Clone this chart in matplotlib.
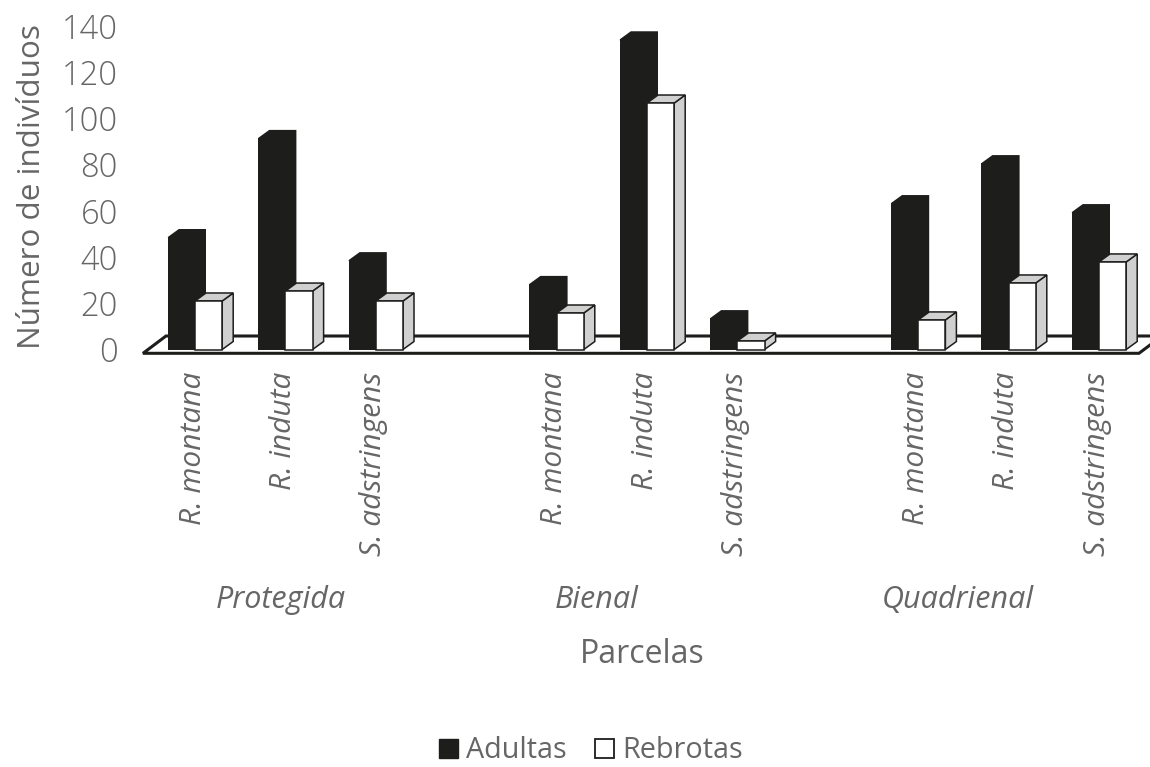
import matplotlib
matplotlib.use("Agg")
import matplotlib.pyplot as plt
from matplotlib.patches import Patch

plt.rcParams['font.family'] = ['Open Sans', 'DejaVu Sans']

especies = ['R. montana', 'R. induta', 'S. adstringens'] * 3
parcelas = ['Protegida', 'Bienal', 'Quadrienal']
adultas = [48.7, 91.6, 38.7, 28.4, 134.3, 13.6, 63.4, 80.7, 59.5]
rebrotas = [21, 25.3, 21, 15.8, 106.7, 3.7, 12.8, 28.8, 37.9]
y_ticks = [0, 20, 40, 60, 80, 100, 120, 140]

# cada parcela deixa uma vaga livre entre os grupos
pos = [0, 1, 2, 4, 5, 6, 8, 9, 10]
pos_parcelas = [0.95, 4.44, 8.44]

PRETO = '#1d1d1b'
CINZA = '#d0d0d0'
TEXTO = '#666666'

W, H = 1150, 767
px_x = 90.4
px_y = 2.31
fig = plt.figure(figsize=(W / 100, H / 100), dpi=100)
ax_esq, ax_dir, ax_base, ax_topo = 143, 1150, 349.5, 349.5 - 140 * px_y
ax = fig.add_axes([ax_esq / W, 1 - ax_base / H, (ax_dir - ax_esq) / W, (ax_base - ax_topo) / H])
ax.set_xlim((ax_esq - 195) / px_x, (ax_dir - 195) / px_x)
ax.set_ylim(0, 140)

larg = 27.2 / px_x
dx = 11 / px_x
dy = 8 / px_y

# piso
piso_x = [-52 / px_x, -29 / px_x, 967 / px_x, 944 / px_x]
piso_y = [-3.8 / px_y, 13.5 / px_y, 13.5 / px_y, -3.8 / px_y]
ax.fill(piso_x, piso_y, facecolor='white', edgecolor=PRETO, linewidth=2.2,
        joinstyle='miter', clip_on=False, zorder=1)

for x, a, r in zip(pos, adultas, rebrotas):
    ax.bar(x - larg, a, larg, align='edge', color=PRETO, zorder=3, clip_on=False)
    ax.fill([x - larg, x - larg + dx, x + dx, x + dx, x],
            [a, a + dy, a + dy, dy, 0], color=PRETO, linewidth=0, zorder=3, clip_on=False)

    ax.fill([x + larg, x + larg + dx, x + larg + dx, x + larg],
            [0, dy, r + dy, r], facecolor=CINZA, edgecolor=PRETO, linewidth=1.1, zorder=4, clip_on=False)
    ax.fill([x, x + dx, x + larg + dx, x + larg],
            [r, r + dy, r + dy, r], facecolor=CINZA, edgecolor=PRETO, linewidth=1.1, zorder=4, clip_on=False)
    ax.bar(x, r, larg, align='edge', color='white', edgecolor=PRETO, linewidth=1.1, zorder=5, clip_on=False)

for lado in ax.spines.values():
    lado.set_visible(False)

ax.set_yticks(y_ticks)
ax.tick_params(axis='y', length=0, pad=18, labelsize=23.5, labelcolor=TEXTO)
for rot in ax.get_yticklabels():
    rot.set_fontweight('light')
    rot.set_verticalalignment('center_baseline')
ax.set_xticks([p - 0.02 for p in pos])
ax.set_xticklabels(especies, rotation=90, style='italic', fontsize=21.5, color=TEXTO)
ax.tick_params(axis='x', length=0, pad=16)

fig.text(32 / W, 1 - 187 / H, 'Número de indivíduos', rotation=90, ha='center', va='center',
         fontsize=22.6, color=TEXTO)

for x, nome in zip(pos_parcelas, parcelas):
    ax.text(x, -108.5, nome, style='italic', ha='center', va='center', fontsize=22, color=TEXTO, clip_on=False)
ax.text(4.95, -132, 'Parcelas', ha='center', va='center', fontsize=23, color=TEXTO, clip_on=False)

handles = [Patch(facecolor=PRETO, edgecolor=PRETO), Patch(facecolor='white', edgecolor=PRETO, linewidth=1.3)]
fig.legend(handles, ['Adultas', 'Rebrotas'], loc='center', bbox_to_anchor=(591 / W, 1 - 751 / H), ncol=2,
           frameon=False, fontsize=20.7, labelcolor=TEXTO, handlelength=0.66, handleheight=0.66,
           handletextpad=0.28, columnspacing=1.0, borderpad=0)

fig.savefig('out.png', dpi=100)
